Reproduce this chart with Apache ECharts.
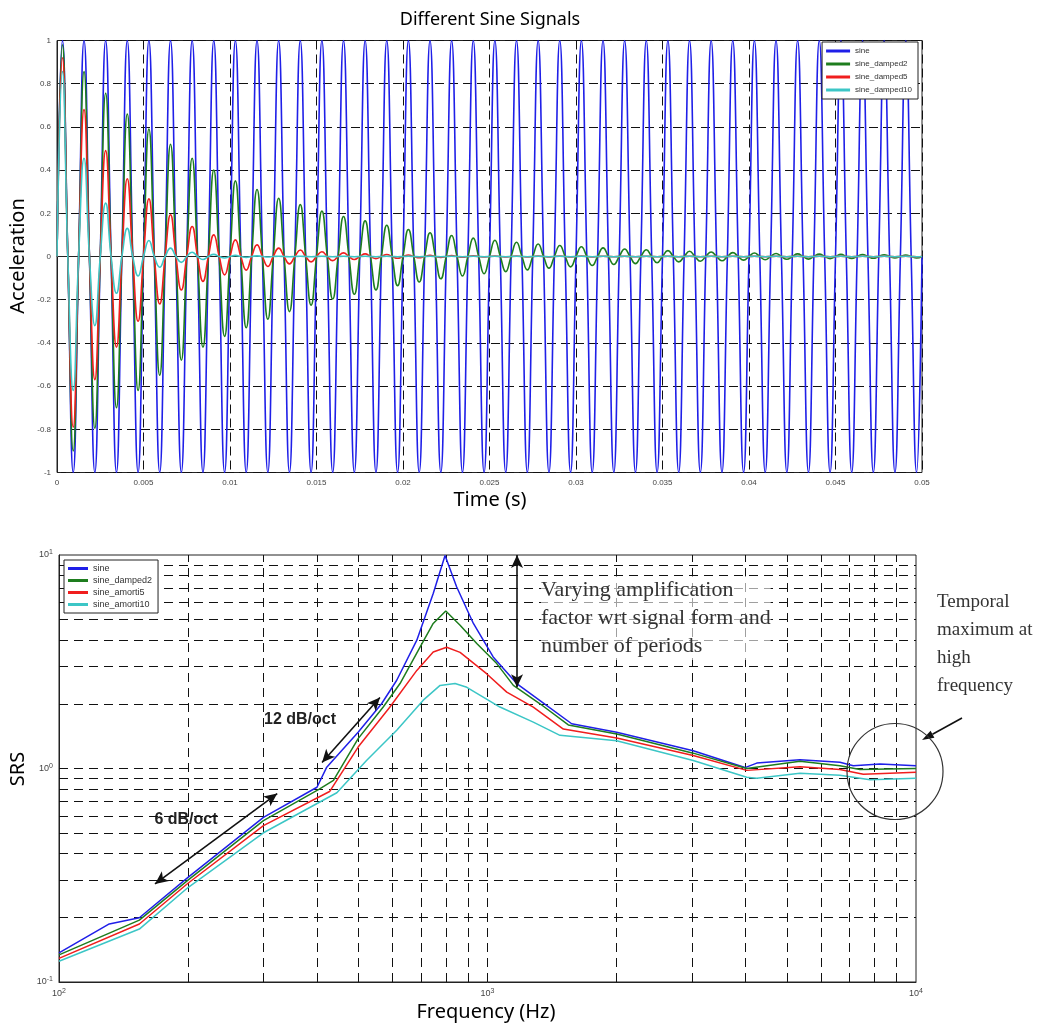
<!DOCTYPE html>
<html><head><meta charset="utf-8">
<script src="https://cdn.jsdelivr.net/npm/echarts@6/dist/echarts.min.js"></script>
<style>html,body{margin:0;padding:0;background:#fff}#c{width:1062px;height:1027px}</style>
</head><body><div id="c"></div>
<script>
// ---------- TOP CHART DATA (half-cycle peak values) ----------
const quarterPeriod = 0.0003125; // 800 Hz sine -> period 0.00125 s
const sinePeaks = [1,-1,1,-1,1,-1,1,-1,1,-1,1,-1,1,-1,1,-1,1,-1,1,-1,
  1,-1,1,-1,1,-1,1,-1,1,-1,1,-1,1,-1,1,-1,1,-1,1,-1,
  1,-1,1,-1,1,-1,1,-1,1,-1,1,-1,1,-1,1,-1,1,-1,1,-1,
  1,-1,1,-1,1,-1,1,-1,1,-1,1,-1,1,-1,1,-1,1,-1,1,-1];
const damped2Peaks = [0.98,-0.90,0.856,-0.795,0.756,-0.70,0.66,-0.62,0.59,-0.55,
  0.52,-0.48,0.455,-0.42,0.40,-0.37,0.35,-0.33,0.31,-0.29,
  0.27,-0.255,0.24,-0.225,0.21,-0.197,0.185,-0.175,0.165,-0.155,
  0.145,-0.135,0.125,-0.118,0.11,-0.103,0.097,-0.09,0.085,-0.08,
  0.075,-0.07,0.066,-0.062,0.058,-0.054,0.051,-0.048,0.045,-0.042,
  0.04,-0.037,0.035,-0.033,0.031,-0.029,0.027,-0.025,0.024,-0.022,
  0.021,-0.02,0.018,-0.017,0.016,-0.015,0.014,-0.013,0.012,-0.012,
  0.011,-0.01,0.01,-0.009,0.009,-0.008,0.008,-0.007,0.007,-0.007];
const damped5Peaks = [0.92,-0.79,0.68,-0.57,0.49,-0.42,0.36,-0.30,0.267,-0.22,
  0.193,-0.155,0.139,-0.115,0.10,-0.085,0.077,-0.063,0.054,-0.046,
  0.039,-0.034,0.03,-0.025,0.022,-0.019,0.017,-0.014,0.012,-0.01,
  0.009,-0.008,0.007,-0.006,0.005,-0.004,0.004,-0.003,0.003,-0.002,
  0.002,-0.002,0.002,-0.002,0.002,-0.002,0.002,-0.002,0.002,-0.002,
  0.001,-0.001,0.001,-0.001,0.001,-0.001,0.001,-0.001,0.001,-0.001,
  0.001,-0.001,0.001,-0.001,0.001,-0.001,0.001,-0.001,0.001,-0.001,
  0.001,-0.001,0.001,-0.001,0.001,-0.001,0.001,-0.001,0.001,-0.001];
const damped10Peaks = [0.856,-0.62,0.455,-0.32,0.247,-0.17,0.13,-0.09,0.074,-0.05,
  0.039,-0.027,0.02,-0.014,0.01,-0.007,0.005,-0.004,0.003,-0.002,
  0.001,-0.001,0.001,-0.001,0.001,-0.001,0.001,-0.001,0.001,-0.001,
  0.001,-0.001,0.001,-0.001,0.001,-0.001,0.001,-0.001,0.001,-0.001,
  0.001,-0.001,0.001,-0.001,0.001,-0.001,0.001,-0.001,0.001,-0.001,
  0.001,-0.001,0.001,-0.001,0.001,-0.001,0.001,-0.001,0.001,-0.001,
  0.001,-0.001,0.001,-0.001,0.001,-0.001,0.001,-0.001,0.001,-0.001,
  0.001,-0.001,0.001,-0.001,0.001,-0.001,0.001,-0.001,0.001,-0.001];
const topNames = ['sine','sine_damped2','sine_damped5','sine_damped10'];

// ---------- BOTTOM CHART DATA (SRS, [frequency Hz, value]) ----------
const srsSine = [[100,0.137],[131,0.187],[154,0.2],[200,0.309],[300,0.59],[400,0.817],[421,1.01],[499,1.48],[566,2.01],[614,2.59],[684,3.99],[747,6.6],[796,9.95],[847,7.1],[927,4.78],[1031,3.33],[1170,2.5],[1326,2.08],[1572,1.62],[2002,1.48],[3020,1.21],[3990,1.01],[4250,1.06],[5360,1.10],[6645,1.07],[7140,1.03],[8240,1.05],[10000,1.03]];
const srsDamped2 = [[100,0.134],[154,0.195],[200,0.30],[300,0.57],[405,0.80],[437,0.88],[499,1.38],[571,1.94],[625,2.5],[696,3.7],[747,4.78],[799,5.47],[863,4.69],[944,3.85],[1051,3.1],[1149,2.45],[1326,2.01],[1544,1.6],[2002,1.45],[3020,1.18],[4027,1.0],[5360,1.08],[6645,1.03],[7400,0.99],[10000,1.0]];
const srsAmorti5 = [[100,0.129],[154,0.187],[200,0.29],[300,0.54],[428,0.78],[499,1.26],[592,1.94],[684,2.88],[747,3.51],[803,3.7],[863,3.5],[995,2.78],[1109,2.28],[1279,1.94],[1503,1.53],[2002,1.39],[3020,1.15],[4027,0.98],[5360,1.02],[6645,0.99],[7535,0.94],[10000,0.96]];
const srsAmorti10 = [[100,0.125],[154,0.177],[200,0.277],[300,0.50],[445,0.77],[522,1.09],[614,1.51],[708,2.09],[775,2.45],[840,2.5],[895,2.4],[1069,1.94],[1279,1.65],[1476,1.43],[2002,1.35],[3020,1.09],[4027,0.91],[4250,0.90],[5360,0.95],[6645,0.93],[7810,0.885],[10000,0.90]];
const bottomNames = ['sine','sine_damped2','sine_amorti5','sine_amorti10'];
const minorFreqs = [200,300,400,500,600,700,800,900,1000,2000,3000,4000,5000,6000,7000,8000,9000];
const minorSRS = [0.2,0.3,0.4,0.5,0.6,0.7,0.8,0.9,1,2,3,4,5,6,7,8,9];

const colors = ['#1f1fe8','#1e7d1e','#f01e1e','#3cc6c6'];

function buildWave(peaks){
  const pts=[[0,0]];
  peaks.forEach((p,j)=>{ pts.push([(2*j+1)*quarterPeriod,p]); pts.push([(2*j+2)*quarterPeriod,0]); });
  return pts;
}
const topData = [sinePeaks,damped2Peaks,damped5Peaks,damped10Peaks].map(buildWave);
const bottomData = [srsSine,srsDamped2,srsAmorti5,srsAmorti10];

const lblFont = 'Liberation Sans';
const dash = [9,5];

const chart = echarts.init(document.getElementById('c'));
const series = [];
topData.forEach((d,i)=>series.push({
  name: topNames[i], type:'line', xAxisIndex:0, yAxisIndex:0, data:d,
  smooth:0.5, showSymbol:false, symbol:'none', animation:false, z:2+i,
  lineStyle:{color:colors[i], width:1.6}, itemStyle:{color:colors[i]}
}));
// gridlines for log-log chart
series.push({
  type:'line', xAxisIndex:1, yAxisIndex:1, data:[[100,0.1]], showSymbol:false, symbol:'none',
  lineStyle:{opacity:0}, z:1, silent:true, animation:false,
  markLine:{silent:true, z:1, symbol:'none', animation:false, label:{show:false},
    lineStyle:{color:'#111', type:[9,6], width:1},
    data: minorFreqs.map(v=>({xAxis:v})).concat(minorSRS.map(v=>({yAxis:v})))}
});
bottomData.forEach((d,i)=>series.push({
  name: bottomNames[i], type:'line', xAxisIndex:1, yAxisIndex:1, data:d,
  showSymbol:false, symbol:'none', animation:false, z:2+i,
  lineStyle:{color:colors[i], width:1.5}, itemStyle:{color:colors[i]}
}));
// annotations (arrows, circle) placed in data coordinates
series.push({
  type:'line', xAxisIndex:1, yAxisIndex:1, data:[[100,0.1]], showSymbol:false, symbol:'none',
  lineStyle:{opacity:0}, z:8, silent:true, animation:false,
  markLine:{silent:true, z:8, symbol:['arrow','arrow'], symbolSize:[9,13], animation:false, label:{show:false},
    lineStyle:{color:'#111', type:'solid', width:1.6},
    data:[
      [{coord:[411,1.067]},{coord:[561,2.15]}],
      [{coord:[167.5,0.288]},{coord:[323,0.763]}],
      [{coord:[1172,10]},{coord:[1172,2.4]}]
    ]},
  markPoint:{silent:true, z:8, animation:false, label:{show:false},
    data:[{coord:[8933,0.968], symbol:'circle', symbolSize:96,
      itemStyle:{color:'rgba(0,0,0,0)', borderColor:'#333', borderWidth:1.2}}]}
});

function supLabel(v){ return '{b|10}{s|' + Math.round(Math.log10(v)) + '}'; }
const richSup = { b:{fontSize:9,color:'#444',fontFamily:lblFont}, s:{fontSize:7,color:'#444',fontFamily:lblFont,verticalAlign:'top',padding:[0,0,5,0]} };

const T = (x,y,text,font,extra)=>Object.assign({type:'text', x, y, silent:true,
  style:Object.assign({text, font, fill:'#000', textAlign:'center', textVerticalAlign:'middle', align:'center', verticalAlign:'middle'},extra||{})});

chart.setOption({
  backgroundColor:'#fff',
  animation:false,
  grid:[
    {left:57, top:40.5, width:865, height:432, show:true, borderColor:'#222', borderWidth:1, backgroundColor:'rgba(0,0,0,0)'},
    {left:59, top:555, width:857, height:427, show:true, borderColor:'#222', borderWidth:1, backgroundColor:'rgba(0,0,0,0)'}
  ],
  xAxis:[
    {type:'value', gridIndex:0, min:0, max:0.05, interval:0.005,
      axisLine:{show:true,lineStyle:{color:'#222'}}, axisTick:{show:true, inside:true, length:4, lineStyle:{color:'#222'}},
      axisLabel:{fontSize:8, color:'#444', fontFamily:lblFont, margin:6},
      splitLine:{show:true, lineStyle:{color:'#111', type:dash, width:1}}},
    {type:'log', gridIndex:1, min:100, max:10000, logBase:10,
      axisLine:{show:true,lineStyle:{color:'#222'}}, axisTick:{show:false},
      axisLabel:{formatter:supLabel, rich:richSup, margin:6},
      splitLine:{show:false}}
  ],
  yAxis:[
    {type:'value', gridIndex:0, min:-1, max:1, interval:0.2,
      axisLine:{show:true,lineStyle:{color:'#222'}}, axisTick:{show:true, inside:true, length:4, lineStyle:{color:'#222'}},
      axisLabel:{fontSize:8, color:'#444', fontFamily:lblFont, margin:6},
      splitLine:{show:true, lineStyle:{color:'#111', type:dash, width:1}}},
    {type:'log', gridIndex:1, min:0.1, max:10, logBase:10,
      axisLine:{show:true,lineStyle:{color:'#222'}}, axisTick:{show:false},
      axisLabel:{formatter:supLabel, rich:richSup, margin:6},
      splitLine:{show:false}}
  ],
  legend:[
    {data:topNames, right:144, top:42, z:20, orient:'vertical', icon:'rect', itemWidth:24, itemHeight:3, itemGap:5,
      selectedMode:false, padding:[5,6,5,4], backgroundColor:'#fff', borderColor:'#222', borderWidth:1,
      textStyle:{fontSize:8, color:'#333', fontFamily:lblFont}},
    {data:bottomNames, left:64, top:560, z:20, orient:'vertical', icon:'rect', itemWidth:20, itemHeight:3, itemGap:3,
      selectedMode:false, padding:[4,6,4,4], backgroundColor:'#fff', borderColor:'#222', borderWidth:1,
      textStyle:{fontSize:9, color:'#333', fontFamily:lblFont}}
  ],
  series,
  graphic:[
    T(490,20,'Different Sine Signals','18px "Noto Sans"'),
    T(490,500,'Time (s)','20px "Noto Sans"'),
    Object.assign(T(18,256,'Acceleration','20px "Noto Sans"'),{rotation:Math.PI/2}),
    T(486,1012,'Frequency (Hz)','20px "Noto Sans"'),
    Object.assign(T(18,769,'SRS','20px "Noto Sans"'),{rotation:Math.PI/2}),
    T(300,720,'12 dB/oct','bold 16px "Liberation Sans"',{fill:'#222'}),
    T(186,820,'6 dB/oct','bold 16px "Liberation Sans"',{fill:'#222'}),
    {type:'text', x:541, y:576, silent:true, z:10,
      style:{text:'Varying amplification\nfactor wrt signal form and\nnumber of periods', font:'22px "Liberation Serif"', lineHeight:28,
        fill:'#333', backgroundColor:'rgba(255,255,255,0.6)'}},
    {type:'text', x:937, y:588, silent:true,
      style:{text:'Temporal\nmaximum at\nhigh\nfrequency', font:'19px "Liberation Serif"', lineHeight:28, fill:'#333'}},
    {type:'line', silent:true, shape:{x1:962,y1:718,x2:932.5,y2:734.2}, style:{stroke:'#111', lineWidth:1.6}},
    {type:'polygon', silent:true, shape:{points:[[922,740],[934.4,737.7],[930.6,730.7]]}, style:{fill:'#111'}}
  ]
});
</script></body></html>
